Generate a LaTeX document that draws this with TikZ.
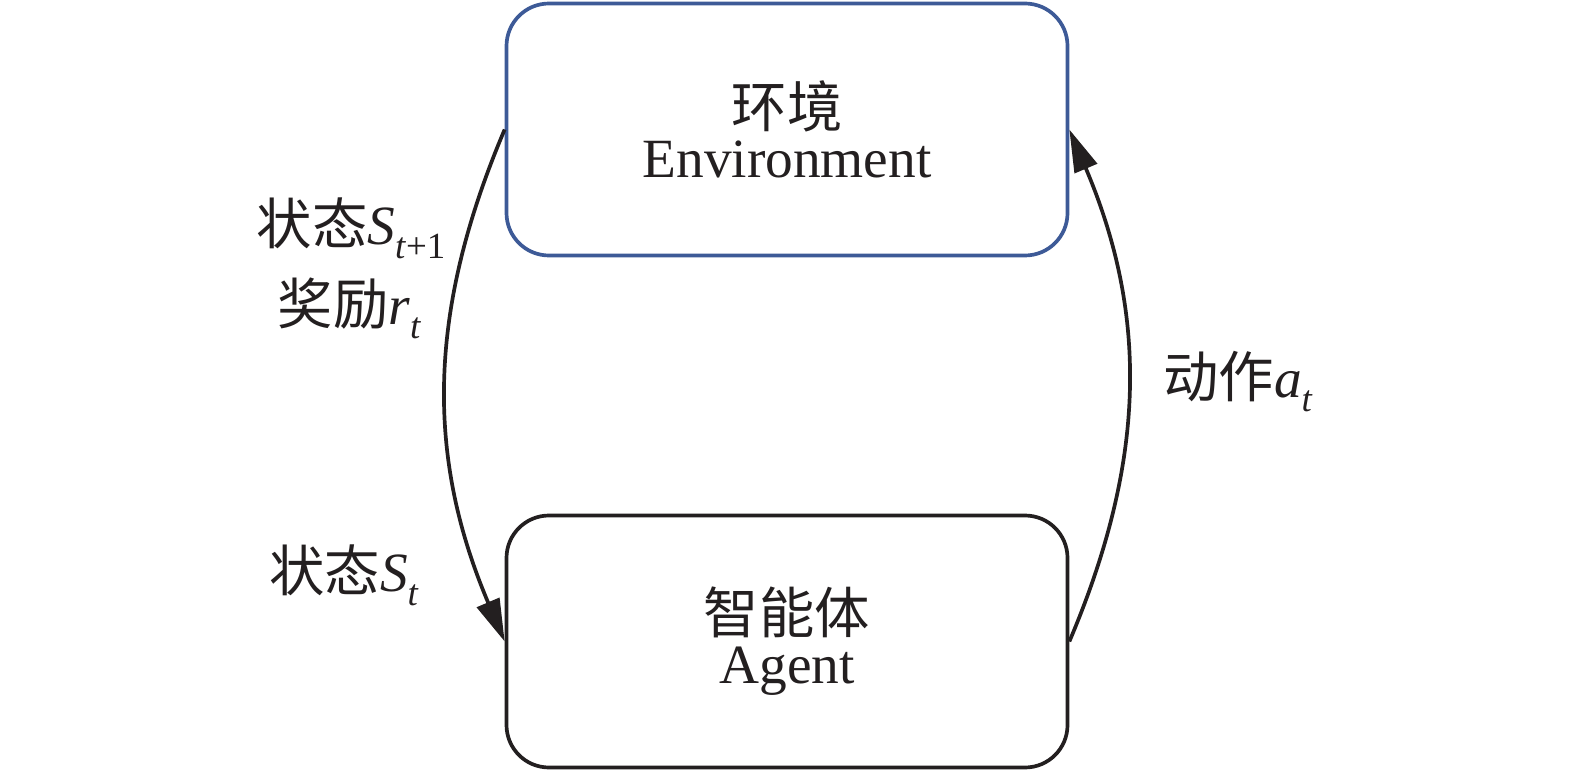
\documentclass[tikz,border=0pt]{standalone}
\usepackage{fontspec}
\usepackage{tikz}
\usetikzlibrary{arrows.meta}
\setmainfont{Liberation Serif}
\newfontfamily\cjk{Noto Sans CJK SC}
\definecolor{ink}{HTML}{231F20}
\definecolor{envblue}{HTML}{3D5A97}
\newcommand{\idx}[1]{\raisebox{-8pt}{\fontsize{21}{21}\selectfont #1}}

\begin{document}
\begin{tikzpicture}[
  box/.style={draw, rounded corners=0.85cm, line width=2.1pt, minimum width=11.22cm,
    minimum height=5.04cm, align=center, text=ink, font=\fontsize{31.5}{28.5}\selectfont},
  lbl/.style={anchor=base, text=ink, inner sep=0pt, font=\fontsize{31.5}{31.5}\selectfont},
  flow/.style={draw=ink, line width=2.1pt, -{Triangle[length=0.85cm,width=0.48cm]}}]
  \useasboundingbox (0,0) rectangle (31.5,-15.42);
  \node[box, draw=envblue] (env) at (15.74,-2.59) {{\cjk 环境}\\Environment};
  \node[box, draw=ink] (agent) at (15.74,-12.83) {{\cjk 智能体}\\Agent};
  \draw[flow] (env.west) to[bend right=23] (agent.west);
  \draw[flow] (agent.east) to[bend right=23] (env.east);
  \node[lbl] (stnext) at (7.02,-4.88) {{\cjk 状态}\textit{S}\idx{\textit{t}+1}};
  \node[lbl] (reward) at (6.99,-6.48) {{\cjk 奖励}\textit{r}\idx{\textit{t}}};
  \node[lbl] (state) at (6.88,-11.82) {{\cjk 状态}\textit{S}\idx{\textit{t}}};
  \node[lbl] (action) at (24.76,-7.94) {{\cjk 动作}\textit{a}\idx{\textit{t}}};
\end{tikzpicture}
\end{document}
